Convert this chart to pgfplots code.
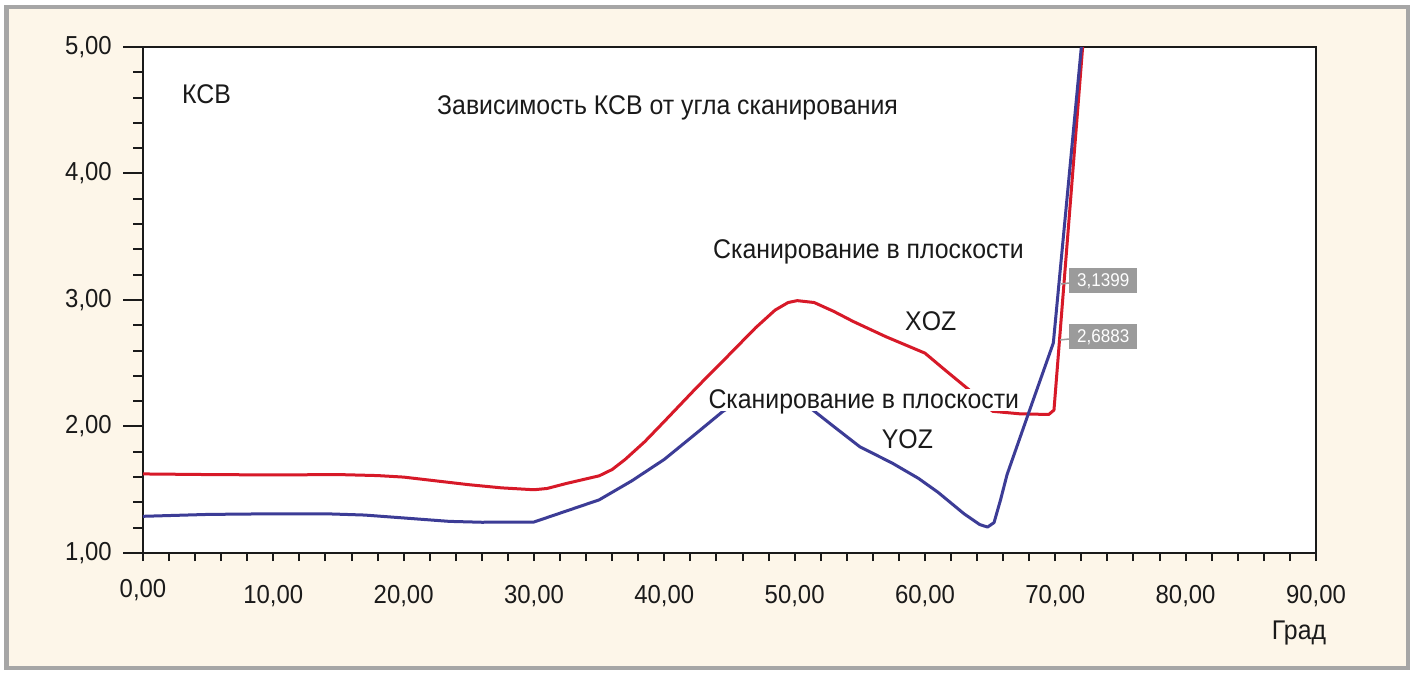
\documentclass[border=0pt]{standalone}
\usepackage{fontspec}
\setmainfont{Liberation Sans}[FakeStretch=0.92]
\usepackage{pgfplots}
\pgfplotsset{compat=1.18}
\definecolor{cream}{RGB}{253,246,233}
\definecolor{framegray}{RGB}{166,166,166}
\definecolor{xred}{RGB}{215,25,40}
\definecolor{yblue}{RGB}{60,60,150}
\definecolor{boxgray}{RGB}{155,155,155}
\definecolor{ink}{RGB}{26,26,26}
\begin{document}
\begin{tikzpicture}[x=1pt,y=1pt]
\useasboundingbox (0,0) rectangle (1414,675);
\fill[white] (0,0) rectangle (1414,675);
\fill[framegray] (4,5) rectangle (1410,670);
\fill[cream] (8.5,9.5) rectangle (1405.5,665.5);
\begin{axis}[
  at={(143pt,122pt)}, anchor=south west,
  width=1173pt, height=506pt, scale only axis,
  xmin=0, xmax=90, ymin=1, ymax=5,
  axis background/.style={fill=white},
  axis line style={ink, line width=2pt},
  tick style={ink, line width=2pt},
  tick align=outside,
  xtick pos=bottom, ytick pos=left,
  xtick={0,10,...,90},
  xticklabels={{\raisebox{6pt}{0,00}},{10,00},{20,00},{30,00},{40,00},{50,00},{60,00},{70,00},{80,00},{90,00}},
  minor x tick num=4,
  ytick={1,2,3,4,5},
  yticklabels={{1,00},{2,00},{3,00},{4,00},{5,00}},
  minor y tick num=4,
  major tick length=20pt, minor tick length=10pt,
  xtick style={/pgfplots/major tick length=8pt,/pgfplots/minor tick length=8pt},
  ticklabel style={font=\fontsize{26}{30}\selectfont, text=ink},
  xticklabel style={anchor=base, inner sep=0pt, yshift=-30pt},
  yticklabel style={anchor=east, inner sep=0pt, xshift=-11pt},
]
\addplot[xred, line width=3pt, line join=round] coordinates {
(0,1.625)(5,1.62)(10,1.617)(15,1.62)(18,1.612)(20,1.60)(22.5,1.57)(25,1.54)(27.5,1.515)(30,1.50)(31,1.51)(32.5,1.55)(35,1.61)(36,1.66)(37,1.74)(38.5,1.88)(40,2.04)(42.5,2.31)(45,2.57)(47,2.78)(48.5,2.92)(49.5,2.98)(50.2,2.995)(51.5,2.98)(53,2.91)(54.5,2.83)(57,2.71)(60,2.58)(61.5,2.45)(63.5,2.28)(65.2,2.12)(67.3,2.10)(69.5,2.095)(69.9,2.13)(72.1,5.0)
};
\addplot[yblue, line width=3pt, line join=round] coordinates {
(0,1.29)(5,1.305)(10,1.31)(14,1.31)(17,1.30)(20,1.277)(23.5,1.25)(26,1.243)(30,1.245)(35,1.42)(37.5,1.57)(40,1.74)(42.5,1.95)(44.5,2.12)(46.5,2.24)(48.5,2.28)(50.5,2.22)(51.4,2.13)(53,2.00)(55,1.84)(57.5,1.71)(59.5,1.59)(61,1.48)(63,1.31)(64.2,1.225)(64.8,1.205)(65.3,1.24)(65.8,1.42)(66.3,1.62)(68,2.12)(69.85,2.66)(72,5.0)
};
\end{axis}
\begin{scope}[every node/.style={text=ink, font=\fontsize{27}{32}\selectfont}]
\node[anchor=base west, inner sep=0pt] at (182,571) {КСВ};
\node[anchor=base west, inner sep=0pt] at (437,560.7) {Зависимость КСВ от угла сканирования};
\node[anchor=base west, inner sep=0pt] at (713,416) {Сканирование в плоскости};
\node[anchor=base west, inner sep=0pt] at (905,344) {XOZ};
\node[anchor=base west, inner sep=1pt, text depth=1pt, fill=white] at (707.3,266) {Сканирование в плоскости};
\node[anchor=base west, inner sep=0pt] at (881.7,226.7) {YOZ};
\node[anchor=base west, inner sep=0pt] at (1271.7,35) {Град};
\end{scope}
\draw[boxgray, line width=1.5pt] (1061,391) -- (1069,392);
\draw[boxgray, line width=1.5pt] (1060,335) -- (1069,336);
\node[fill=boxgray, text=white, font=\fontsize{18.5}{20}\selectfont, minimum width=68pt, minimum height=25pt, inner sep=0pt, anchor=west] at (1069,394) {3,1399};
\node[fill=boxgray, text=white, font=\fontsize{18.5}{20}\selectfont, minimum width=68pt, minimum height=25pt, inner sep=0pt, anchor=west] at (1069,338) {2,6883};
\end{tikzpicture}
\end{document}
